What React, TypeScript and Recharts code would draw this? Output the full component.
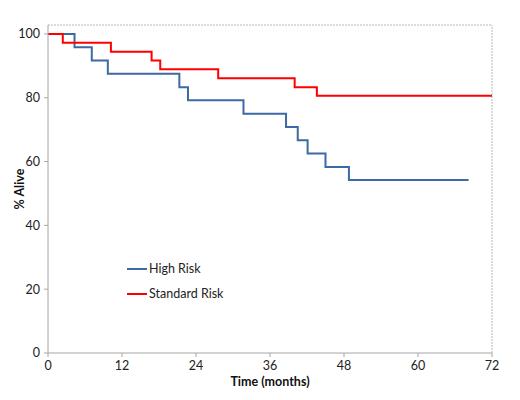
import React from "react";
import { LineChart, Line, XAxis, YAxis, ReferenceLine } from "recharts";

const highRiskTime = [0, 4.3, 7.1, 9.7, 21.3, 22.7, 31.7, 38.6, 40.5, 42.1, 45.0, 48.8, 68.2];
const highRiskAlive = [100, 95.8, 91.7, 87.5, 83.3, 79.2, 75, 70.8, 66.7, 62.5, 58.3, 54.2, 54.2];
const standardRiskTime = [0, 2.4, 10.2, 16.8, 18.2, 27.6, 40.0, 43.6, 72];
const standardRiskAlive = [100, 97.2, 94.4, 91.7, 88.9, 86.1, 83.3, 80.6, 80.6];
const xTicks = [0, 12, 24, 36, 48, 60, 72];
const yTicks = [0, 20, 40, 60, 80, 100];

const highData = highRiskTime.map((t, i) => ({ t, v: highRiskAlive[i] }));
const stdData = standardRiskTime.map((t, i) => ({ t, v: standardRiskAlive[i] }));

const BLUE = "#3D69A5";
const RED = "#FF0000";
const FONT = "Lato, 'Liberation Sans', sans-serif";

const legendItems = [
  { label: "High Risk", color: BLUE },
  { label: "Standard Risk", color: RED },
];

export default function App() {
  return (
    <div style={{ position: "absolute", left: 0, top: 0, width: 520, height: 400, background: "#fff" }}>
      <LineChart width={520} height={400} margin={{ top: 25, right: 28, left: 0, bottom: 0 }}>
        <XAxis
          type="number"
          dataKey="t"
          domain={[0, 72]}
          ticks={xTicks}
          interval={0}
          height={47}
          stroke="#A6A6A6"
          tickSize={4}
          tick={{ fill: "#222", fontSize: 12.5, fontFamily: FONT }}
          tickMargin={4}
          label={{ value: "Time (months)", position: "insideBottom", offset: 14, style: { fontFamily: FONT, fontSize: 12.5, fontWeight: 700, fill: "#111" } }}
        />
        <YAxis
          type="number"
          dataKey="v"
          domain={[0, 102.8]}
          ticks={yTicks}
          interval={0}
          width={48}
          stroke="#A6A6A6"
          tickSize={4}
          tick={{ fill: "#222", fontSize: 12.5, fontFamily: FONT }}
          tickMargin={4}
          label={{ value: "% Alive", angle: -90, position: "insideLeft", offset: 20, style: { fontFamily: FONT, fontSize: 12.5, fontWeight: 700, fill: "#111", textAnchor: "middle" } }}
        />
        <ReferenceLine y={102.8} stroke="#B8B8B8" strokeDasharray="2 1" />
        <ReferenceLine x={72} stroke="#B8B8B8" strokeDasharray="2 1" />
        <Line data={highData} dataKey="v" type="stepAfter" stroke={BLUE} strokeWidth={2} dot={false} isAnimationActive={false} name="High Risk" />
        <Line data={stdData} dataKey="v" type="stepAfter" stroke={RED} strokeWidth={2} dot={false} isAnimationActive={false} name="Standard Risk" />
      </LineChart>
      <div style={{ position: "absolute", left: 127, top: 256, fontFamily: FONT, fontSize: 12.5, color: "#222" }}>
        {legendItems.map((it) => (
          <div key={it.label} style={{ display: "flex", alignItems: "center", height: 25 }}>
            <div style={{ width: 20, height: 2, background: it.color, marginRight: 2 }} />
            <span>{it.label}</span>
          </div>
        ))}
      </div>
    </div>
  );
}
